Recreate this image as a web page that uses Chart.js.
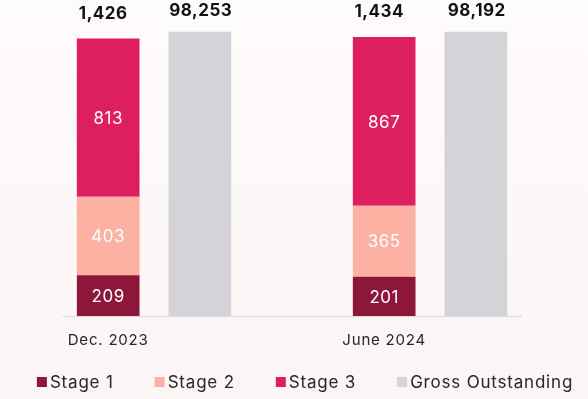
<!DOCTYPE html>
<html>
<head>
<meta charset="utf-8">
<script src="https://cdn.jsdelivr.net/npm/chart.js@4.4.1/dist/chart.umd.min.js"></script>
<style>
  html, body { margin: 0; padding: 0; background: #fdf8f8; }
  canvas { display: block; }
</style>
</head>
<body>
<canvas id="grafico" width="588" height="399"></canvas>
<script>
// datos (INR crore)
const periods = ['Dec. 2023', 'June 2024'];
const stage1 = [209, 201];
const stage2 = [403, 365];
const stage3 = [813, 867];
const npaTotals = [1426, 1434];
const grossOutstanding = [98253, 98192];

const colStage1 = '#8d173a';
const colStage2 = '#fcb1a3';
const colStage3 = '#de1f5f';
const colGross = '#d3d3d8';
const FONT = 'Inter, "DejaVu Sans", sans-serif';

const fmt = v => v.toLocaleString('en-US');

// fondo, linea base, etiquetas y leyenda
const decoraciones = {
    id: 'decoraciones',
    beforeDraw(chart) {
        const { ctx, width, height } = chart;
        ctx.save();
        const g = ctx.createLinearGradient(0, 0, 0, height);
        g.addColorStop(0, '#fefbfb');
        g.addColorStop(1, '#fcf5f5');
        ctx.fillStyle = g;
        ctx.fillRect(0, 0, width, height);
        ctx.restore();
    },
    beforeDatasetsDraw(chart) {
        const { ctx, chartArea } = chart;
        ctx.save();
        ctx.strokeStyle = '#dddde2';
        ctx.lineWidth = 1.5;
        ctx.beginPath();
        ctx.moveTo(chartArea.left + 47, chartArea.bottom + 0.5);
        ctx.lineTo(chartArea.right - 46, chartArea.bottom + 0.5);
        ctx.stroke();
        ctx.restore();
    },
    afterDatasetsDraw(chart) {
        const { ctx, chartArea } = chart;
        ctx.save();
        ctx.textAlign = 'center';
        ctx.textBaseline = 'middle';

        // valores dentro de cada tramo
        ctx.font = '17px ' + FONT;
        ctx.letterSpacing = '0.5px';
        ctx.fillStyle = '#ffffff';
        [0, 1, 2].forEach(di => {
            const meta = chart.getDatasetMeta(di);
            meta.data.forEach((bar, i) => {
                const yMid = (bar.y + bar.base) / 2;
                ctx.fillText(fmt(chart.data.datasets[di].data[i]), bar.x, yMid + 1);
            });
        });

        // totales encima
        ctx.font = 'bold 17px ' + FONT;
        ctx.fillStyle = '#111111';
        const top3 = chart.getDatasetMeta(2);
        top3.data.forEach((bar, i) => {
            ctx.fillText(fmt(npaTotals[i]), bar.x - 5, bar.y - 25);
        });
        const gross = chart.getDatasetMeta(3);
        gross.data.forEach((bar, i) => {
            ctx.fillText(fmt(grossOutstanding[i]), bar.x + 1, bar.y - 21);
        });

        // etiquetas de categoria bajo la barra apilada
        ctx.font = '15px ' + FONT;
        ctx.letterSpacing = '0.8px';
        ctx.fillStyle = '#262626';
        chart.getDatasetMeta(0).data.forEach((bar, i) => {
            ctx.fillText(periods[i], bar.x, chartArea.bottom + 24);
        });

        // leyenda
        ctx.font = '17px ' + FONT;
        ctx.letterSpacing = '0.8px';
        ctx.textAlign = 'left';
        const items = chart.data.datasets.map(d => ({ text: d.label, color: d.backgroundColor }));
        const box = 10, gapTxt = 3, gapItem = 41;
        let total = 0;
        items.forEach(it => { it.w = box + gapTxt + ctx.measureText(it.text).width; total += it.w; });
        total += gapItem * (items.length - 1);
        let x = 305 - total / 2;
        const yL = 382;
        items.forEach(it => {
            ctx.fillStyle = it.color;
            ctx.fillRect(x, yL - box / 2, box, box);
            ctx.fillStyle = '#262626';
            ctx.fillText(it.text, x + box + gapTxt, yL + 1);
            x += it.w + gapItem;
        });
        ctx.restore();
    }
};

new Chart(document.getElementById('grafico'), {
    type: 'bar',
    data: {
        labels: periods,
        datasets: [
            { label: 'Stage 1', data: stage1, backgroundColor: colStage1, stack: 'npa', yAxisID: 'y' },
            { label: 'Stage 2', data: stage2, backgroundColor: colStage2, stack: 'npa', yAxisID: 'y' },
            { label: 'Stage 3', data: stage3, backgroundColor: colStage3, stack: 'npa', yAxisID: 'y' },
            { label: 'Gross Outstanding', data: grossOutstanding, backgroundColor: colGross, stack: 'gross', yAxisID: 'y2' }
        ]
    },
    options: {
        responsive: false,
        animation: false,
        categoryPercentage: 0.664,
        barPercentage: 0.684,
        layout: { padding: { left: 16, right: 20, top: 0, bottom: 83 } },
        scales: {
            x: { display: false, stacked: true },
            y: { display: false, stacked: true, min: 0, max: 1623 },
            y2: { display: false, stacked: true, min: 0, max: 109200 }
        },
        plugins: {
            legend: { display: false },
            tooltip: { enabled: false }
        }
    },
    plugins: [decoraciones]
});
</script>
</body>
</html>
